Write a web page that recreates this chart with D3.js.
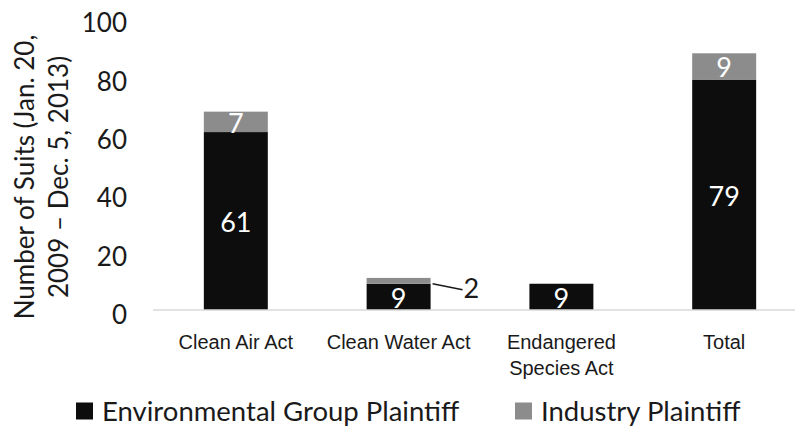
<!DOCTYPE html>
<html>
<head>
<meta charset="utf-8">
<script src="https://cdn.jsdelivr.net/npm/d3@7"></script>
<style>
  body { margin: 0; background: #fff; }
  svg { display: block; font-family: Lato, "Open Sans", sans-serif; }
</style>
</head>
<body>
<svg id="chart" width="795" height="429"></svg>
<script>
// data
var categories = ["Clean Air Act", "Clean Water Act", "Endangered Species Act", "Total"];
var envGroup = [61, 9, 9, 79];
var industry = [7, 2, 0, 9];
var yTicks = [0, 20, 40, 60, 80, 100];
var seriesNames = ["Environmental Group Plaintiff", "Industry Plaintiff"];
var colors = ["#0d0d0d", "#8c8c8c"];

var svg = d3.select("#chart");
var width = 795, height = 429;

var x = d3.scaleBand()
  .domain(categories)
  .range([155, 805])
  .paddingInner(0.607)
  .paddingOuter(0.3);

var y = d3.scaleLinear()
  .domain([0, 100])
  .range([310, 18.3]);

var rows = categories.map(function(c, i) {
  return { cat: c, env: envGroup[i], ind: industry[i] };
});

var stack = d3.stack().keys(["env", "ind"]);
var layers = stack(rows);

// bars
var layerG = svg.selectAll("g.layer")
  .data(layers)
  .enter().append("g")
  .attr("class", "layer")
  .attr("fill", function(d, i) { return colors[i]; });

layerG.selectAll("rect")
  .data(function(d) { return d; })
  .enter().append("rect")
  .attr("x", function(d) { return x(d.data.cat); })
  .attr("y", function(d) { return y(d[1]); })
  .attr("width", x.bandwidth())
  .attr("height", function(d) { return y(d[0]) - y(d[1]); });

// x axis
var xAxis = svg.append("g")
  .attr("transform", "translate(0," + y(0) + ")")
  .call(d3.axisBottom(x).tickSize(0).tickSizeOuter(0).tickFormat(""));
xAxis.select(".domain").attr("stroke", "#d9d9d9").attr("stroke-width", 1.5)
  .attr("d", "M153,0H795");

var xLabels = {
  "Clean Air Act": ["Clean Air Act"],
  "Clean Water Act": ["Clean Water Act"],
  "Endangered Species Act": ["Endangered", "Species Act"],
  "Total": ["Total"]
};
xAxis.selectAll(".tick").each(function(d) {
  var t = d3.select(this).append("text")
    .attr("fill", "#1a1a1a")
    .attr("font-size", 20)
    .attr("text-anchor", "middle");
  xLabels[d].forEach(function(line, i) {
    t.append("tspan").attr("x", 0).attr("y", 39 + i * 26).text(line);
  });
});

// y axis
var yAxis = svg.append("g")
  .attr("transform", "translate(131,0)")
  .call(d3.axisLeft(y).tickValues(yTicks).tickSize(0).tickPadding(4));
yAxis.select(".domain").remove();
yAxis.selectAll("text")
  .attr("font-size", 26)
  .attr("font-family", "Lato, sans-serif")
  .attr("fill", "#1a1a1a")
  .attr("dy", "0.52em");

// y title
var title = svg.append("text")
  .attr("transform", "translate(0,177) rotate(-90)")
  .attr("text-anchor", "middle")
  .attr("font-size", 26)
  .attr("fill", "#1a1a1a");
title.append("tspan").attr("x", 0).attr("y", 34).text("Number of Suits (Jan. 20,");
title.append("tspan").attr("x", 0).attr("y", 68).text("2009 \u2013 Dec. 5, 2013)");

// data labels inside bars
layerG.each(function(layer) {
  d3.select(this).selectAll("text.val")
    .data(layer.filter(function(d) {
      var v = d[1] - d[0];
      return v > 0 && !(layer.key === "ind" && v < 5);
    }))
    .enter().append("text")
    .attr("class", "val")
    .attr("x", function(d) { return x(d.data.cat) + x.bandwidth() / 2; })
    .attr("y", function(d) { return (y(d[0]) + y(d[1])) / 2; })
    .attr("dy", "0.4em")
    .attr("text-anchor", "middle")
    .attr("font-size", 27)
    .attr("fill", "#fff")
    .text(function(d) { return d[1] - d[0]; });
});

// small segment label with leader line
var small = layers[1].filter(function(d) {
  var v = d[1] - d[0];
  return v > 0 && v < 5;
});
small.forEach(function(d) {
  var xr = x(d.data.cat) + x.bandwidth();
  var ym = (y(d[0]) + y(d[1])) / 2;
  svg.append("line")
    .attr("x1", xr + 2).attr("y1", ym + 3)
    .attr("x2", xr + 32).attr("y2", ym + 9)
    .attr("stroke", "#1a1a1a").attr("stroke-width", 1.5);
  svg.append("text")
    .attr("x", xr + 33)
    .attr("y", ym + 7)
    .attr("dy", "0.38em")
    .attr("font-size", 27)
    .attr("fill", "#1a1a1a")
    .text(d[1] - d[0]);
});

// legend
var legendX = [76, 515];
var legend = svg.selectAll("g.legend")
  .data(seriesNames)
  .enter().append("g")
  .attr("class", "legend")
  .attr("transform", function(d, i) { return "translate(" + legendX[i] + ",411)"; });
legend.append("rect")
  .attr("x", 0).attr("y", -8.5)
  .attr("width", 17).attr("height", 17)
  .attr("fill", function(d, i) { return colors[i]; });
legend.append("text")
  .attr("x", 26)
  .attr("dy", "0.36em")
  .attr("font-size", 27.5)
  .attr("fill", "#1a1a1a")
  .text(function(d) { return d; });
</script>
</body>
</html>
